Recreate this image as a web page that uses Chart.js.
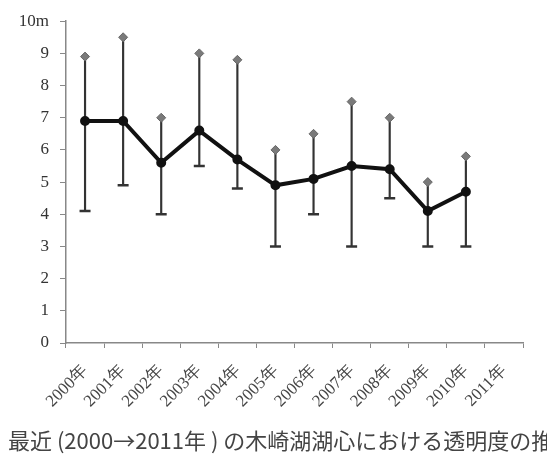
<!DOCTYPE html>
<html>
<head>
<meta charset="utf-8">
<script src="https://cdn.jsdelivr.net/npm/chart.js@4/dist/chart.umd.min.js"></script>
<style>
  html, body { margin: 0; padding: 0; background: #fff; }
  #wrap { position: relative; width: 547px; height: 457px; overflow: hidden; }
  #caption {
    position: absolute; left: 8px; top: 428px;
    font-family: 'Noto Sans CJK JP'; font-size: 22px; line-height: 1;
    color: #444; white-space: nowrap;
  }
</style>
</head>
<body>
<div id="wrap">
  <canvas id="myChart" width="547" height="457"></canvas>
  <div id="caption">最近 (2000→2011年 ) の木崎湖湖心における透明度の推移</div>
</div>
<script>
// data (transparency, m)
var years = ['2000年', '2001年', '2002年', '2003年', '2004年', '2005年',
             '2006年', '2007年', '2008年', '2009年', '2010年', '2011年'];
var meanVals = [6.9, 6.9, 5.6, 6.6, 5.7, 4.9, 5.1, 5.5, 5.4, 4.1, 4.7, null];
var maxVals  = [8.9, 9.5, 7.0, 9.0, 8.8, 6.0, 6.5, 7.5, 7.0, 5.0, 5.8, null];
var minVals  = [4.1, 4.9, 4.0, 5.5, 4.8, 3.0, 4.0, 3.0, 4.5, 3.0, 3.0, null];
var yTicks = [0, 1, 2, 3, 4, 5, 6, 7, 8, 9, 10];

var lineColor = '#111';
var capColor = '#7a7a7a';
var axisColor = '#888';

var ranges = years.map(function (y, i) {
    return maxVals[i] == null ? null : [minVals[i], maxVals[i]];
});

var ctx = document.getElementById('myChart').getContext('2d');
var chart = new Chart(ctx, {
    type: 'bar',
    data: {
        labels: years,
        datasets: [{
                // vertical whiskers
                type: 'bar',
                data: ranges,
                backgroundColor: '#333',
                barThickness: 1.5,
                order: 3
            },
            {
                // lower caps
                type: 'line',
                data: minVals,
                showLine: false,
                pointStyle: 'line',
                pointRadius: 5.5,
                borderWidth: 2.5,
                borderColor: '#333',
                order: 2
            },
            {
                // upper caps
                type: 'line',
                data: maxVals,
                showLine: false,
                pointStyle: 'rectRot',
                pointRadius: 4.5,
                borderWidth: 1,
                backgroundColor: capColor,
                borderColor: '#666',
                order: 2
            },
            {
                type: 'line',
                data: meanVals,
                borderColor: lineColor,
                backgroundColor: lineColor,
                borderWidth: 4,
                pointRadius: 3,
                fill: false,
                order: 0
            }
        ]
    },
    options: {
        responsive: false,
        animation: false,
        layout: { padding: { left: 0, right: 24, top: 8, bottom: 44 } },
        plugins: {
            legend: { display: false },
            tooltip: { enabled: false }
        },
        scales: {
            x: {
                offset: true,
                afterFit: function (scale) { scale.height = 70; },
                border: { color: axisColor, width: 1.5 },
                grid: { display: true, drawOnChartArea: false, offset: true, tickLength: 5, color: axisColor },
                ticks: {
                    maxRotation: 45,
                    minRotation: 45,
                    color: '#444',
                    padding: 13,
                    font: { family: 'Liberation Serif', size: 17 }
                }
            },
            y: {
                min: 0,
                max: 10,
                afterBuildTicks: function (scale) {
                    scale.ticks = yTicks.map(function (v) { return { value: v }; });
                },
                afterFit: function (scale) { scale.width = 66; },
                border: { color: axisColor, width: 1.5 },
                grid: { display: true, drawOnChartArea: false, tickLength: 6, color: axisColor },
                ticks: {
                    color: '#333',
                    padding: 11,
                    font: { family: 'Liberation Serif', size: 17 },
                    callback: function (v) { return v === 10 ? '10m' : v; }
                }
            }
        }
    }
});
</script>
</body>
</html>
